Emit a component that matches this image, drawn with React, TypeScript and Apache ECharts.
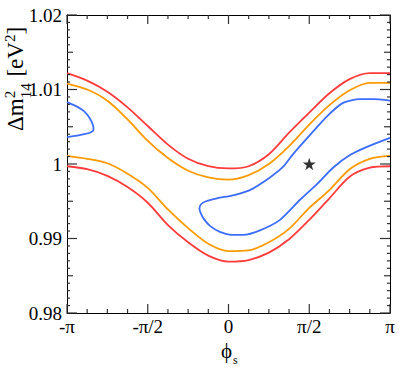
import React, { useEffect, useRef } from 'react';
import * as echarts from 'echarts';

// x values are in units of pi
const X_TICK_VALUES = [-1, -0.5, 0, 0.5, 1];
const X_TICK_LABELS = ['-π', '-π/2', '0', 'π/2', 'π'];
const X_MINOR_TICKS = [-0.875, -0.75, -0.625, -0.375, -0.25, -0.125, 0.125, 0.25, 0.375, 0.625, 0.75, 0.875];
const Y_TICK_VALUES = [0.98, 0.99, 1, 1.01, 1.02];
const Y_TICK_LABELS = ['0.98', '0.99', '1', '1.01', '1.02'];

const PHI = [-1, -0.875, -0.75, -0.625, -0.5, -0.375, -0.25, -0.125, 0, 0.125, 0.25, 0.375, 0.5, 0.625, 0.75, 0.875, 1];
const RED_UPPER = [1.0122, 1.0112, 1.0097, 1.0076, 1.0051, 1.0026, 1.0007, 0.9997, 0.9994, 0.9997, 1.0013, 1.0042, 1.0069, 1.0095, 1.0114, 1.0122, 1.0122];
const ORANGE_UPPER = [1.0108, 1.01, 1.0085, 1.006, 1.0031, 1.0008, 0.9991, 0.9982, 0.9979, 0.9985, 1.0, 1.0024, 1.0053, 1.0079, 1.0099, 1.0109, 1.0109];
const ORANGE_LOWER = [1.0011, 1.0007, 1.0001, 0.9987, 0.9968, 0.9939, 0.9914, 0.9893, 0.9883, 0.9884, 0.9895, 0.9913, 0.9941, 0.9965, 0.9993, 1.0007, 1.0011];
const RED_LOWER = [0.9997, 0.9993, 0.9984, 0.9969, 0.9948, 0.9918, 0.9895, 0.9877, 0.9869, 0.9871, 0.9881, 0.9899, 0.9925, 0.9954, 0.9983, 0.9995, 0.9997];

const BLUE_MAIN_PHI = [1.0, 0.895, 0.814, 0.709, 0.61, 0.505, 0.399, 0.337, 0.257, 0.133, 0.028, -0.071, -0.139, -0.17, -0.18, -0.17, -0.152, -0.115, -0.053, 0.022, 0.09, 0.195, 0.319, 0.443, 0.548, 0.647, 0.752, 0.858, 1.0];
const BLUE_MAIN_VAL = [1.0085, 1.0087, 1.0087, 1.0082, 1.0064, 1.0039, 1.0013, 0.9996, 0.9982, 0.9965, 0.9958, 0.9954, 0.995, 0.9946, 0.994, 0.9933, 0.9926, 0.9917, 0.9909, 0.9905, 0.9905, 0.9911, 0.9925, 0.9952, 0.9973, 0.9995, 1.0012, 1.0023, 1.0035];
const BLUE_LOBE_PHI = [-1, -0.938, -0.895, -0.861, -0.839, -0.836, -0.858, -0.895, -0.938, -1];
const BLUE_LOBE_VAL = [1.0083, 1.0077, 1.0071, 1.0062, 1.0052, 1.0046, 1.0042, 1.004, 1.0038, 1.0036];

const BEST_FIT = [0.5, 1.0];

const X_MIN = -1;
const X_MAX = 1;
const Y_MIN = 0.98;
const Y_MAX = 1.02;

const FONT = '"Liberation Serif", "DejaVu Serif", serif';
const RED = '#ff3b3b';
const ORANGE = '#ff9a00';
const BLUE = '#3d6dff';
const TICK = '#333';
const STAR = 'path://M50,0 L61.8,35.1 L98.5,35.1 L68.8,56.7 L79.4,91.9 L50,70 L20.6,91.9 L31.2,56.7 L1.5,35.1 L38.2,35.1 Z';

function measure(text: string, size: number): number {
  const c = document.createElement('canvas').getContext('2d');
  if (!c) return text.length * size * 0.5;
  c.font = `${size}px ${FONT}`;
  return c.measureText(text).width;
}

function zip(xs: number[], ys: number[]) {
  return xs.map((x, i) => [x, ys[i]]);
}

// tick marks: [x, y, kind (0 = x tick, 1 = y tick), length in px]
function tickData() {
  const out: number[][] = [];
  X_TICK_VALUES.forEach((v) => out.push([v, 1, 0, 9]));
  X_MINOR_TICKS.forEach((v) => out.push([v, 1, 0, 4]));
  for (let i = 0; i <= 40; i++) {
    const v = Math.round((Y_MIN + i * 0.001) * 10000) / 10000;
    const len = i % 10 === 0 ? 10 : i % 5 === 0 ? 6 : 3;
    out.push([0, v, 1, len]);
  }
  return out;
}

function renderTick(_params: any, api: any) {
  const kind = api.value(2);
  const len = api.value(3);
  const style = { stroke: TICK, lineWidth: 1.2 };
  if (kind === 0) {
    const v = api.value(0);
    const b = api.coord([v, Y_MIN]);
    const t = api.coord([v, Y_MAX]);
    return {
      type: 'group',
      children: [
        { type: 'line', shape: { x1: b[0], y1: b[1], x2: b[0], y2: b[1] - len }, style },
        { type: 'line', shape: { x1: t[0], y1: t[1], x2: t[0], y2: t[1] + len }, style },
      ],
    };
  }
  const v = api.value(1);
  const l = api.coord([X_MIN, v]);
  const r = api.coord([X_MAX, v]);
  return {
    type: 'group',
    children: [
      { type: 'line', shape: { x1: l[0], y1: l[1], x2: l[0] + len, y2: l[1] }, style },
      { type: 'line', shape: { x1: r[0], y1: r[1], x2: r[0] - len, y2: r[1] }, style },
    ],
  };
}

function yTitle() {
  const F = 23;
  const S = 15;
  const w1 = measure('Δm', F);
  const wSub = measure('14', S);
  const wSup = measure('2', S);
  const w2 = measure(' [eV', F);
  const x2 = w1 + Math.max(wSub, wSup) + 1;
  const base = { fill: '#000', fontFamily: FONT, verticalAlign: 'bottom' as const, align: 'left' as const };
  return {
    type: 'group',
    x: 27,
    y: 131,
    rotation: Math.PI / 2,
    children: [
      { type: 'text', x: 0, y: 0, style: { ...base, text: 'Δm', fontSize: F } },
      { type: 'text', x: w1, y: -F * 0.42, style: { ...base, text: '2', fontSize: S } },
      { type: 'text', x: w1, y: S * 0.45, style: { ...base, text: '14', fontSize: S } },
      { type: 'text', x: x2, y: 0, style: { ...base, text: ' [eV', fontSize: F } },
      { type: 'text', x: x2 + w2, y: -F * 0.42, style: { ...base, text: '2', fontSize: S } },
      { type: 'text', x: x2 + w2 + wSup, y: 0, style: { ...base, text: ']', fontSize: F } },
    ],
  };
}

function xTitle() {
  return {
    type: 'group',
    children: [
      { type: 'text', x: 221, y: 340, style: { text: 'ϕ', fontSize: 21, fontFamily: FONT, fill: '#000', align: 'left', verticalAlign: 'top' } },
      { type: 'text', x: 233, y: 354, style: { text: 's', fontSize: 12, fontFamily: FONT, fill: '#000', align: 'left', verticalAlign: 'top' } },
    ],
  };
}

function xLabel(v: number) {
  const i = X_TICK_VALUES.findIndex((t) => Math.abs(t - v) < 1e-6);
  return i >= 0 ? X_TICK_LABELS[i] : '';
}
function yLabel(v: number) {
  const i = Y_TICK_VALUES.findIndex((t) => Math.abs(t - v) < 1e-6);
  return i >= 0 ? Y_TICK_LABELS[i] : '';
}

function xAxis(position: 'bottom' | 'top', labels: boolean) {
  return {
    type: 'value',
    position,
    min: X_MIN,
    max: X_MAX,
    interval: 0.5,
    axisLine: { show: true, onZero: false, lineStyle: { color: '#000', width: 1 } },
    axisTick: { show: false },
    minorTick: { show: false },
    splitLine: { show: false },
    minorSplitLine: { show: false },
    axisLabel: { show: labels, formatter: xLabel, fontSize: 19, fontFamily: FONT, color: '#000', margin: 4 },
  };
}

function yAxis(position: 'left' | 'right', labels: boolean) {
  return {
    type: 'value',
    position,
    min: Y_MIN,
    max: Y_MAX,
    interval: 0.01,
    axisLine: { show: true, onZero: false, lineStyle: { color: '#000', width: 1 } },
    axisTick: { show: false },
    minorTick: { show: false },
    splitLine: { show: false },
    minorSplitLine: { show: false },
    axisLabel: { show: labels, formatter: yLabel, fontSize: 19, fontFamily: FONT, color: '#000', margin: 5 },
  };
}

function lineSeries(data: number[][], color: string, smooth = 0.3) {
  return {
    type: 'line',
    data,
    xAxisIndex: 0,
    yAxisIndex: 0,
    showSymbol: false,
    symbol: 'none',
    smooth,
    lineStyle: { color, width: 1.8 },
  };
}

export default function App() {
  const ref = useRef<HTMLDivElement>(null);
  useEffect(() => {
    if (!ref.current) return;
    const chart = echarts.init(ref.current, null, { renderer: 'svg' });
    chart.setOption({
      animation: false,
      backgroundColor: '#fff',
      grid: { left: 67, right: 9, top: 15, bottom: 57, containLabel: false },
      xAxis: [xAxis('bottom', true), xAxis('top', false)],
      yAxis: [yAxis('left', true), yAxis('right', false)],
      series: [
        lineSeries(zip(PHI, RED_UPPER), RED),
        lineSeries(zip(PHI, ORANGE_UPPER), ORANGE),
        lineSeries(zip(PHI, ORANGE_LOWER), ORANGE),
        lineSeries(zip(PHI, RED_LOWER), RED),
        lineSeries(zip(BLUE_MAIN_PHI, BLUE_MAIN_VAL), BLUE, 0.25),
        lineSeries(zip(BLUE_LOBE_PHI, BLUE_LOBE_VAL), BLUE, 0.25),
        {
          type: 'scatter',
          data: [BEST_FIT],
          symbol: STAR,
          symbolSize: 13,
          symbolKeepAspect: true,
          itemStyle: { color: '#000' },
        },
        {
          type: 'custom',
          xAxisIndex: 0,
          yAxisIndex: 0,
          data: tickData(),
          renderItem: renderTick,
          silent: true,
          z: 5,
        },
      ],
      graphic: [yTitle(), xTitle()],
    });
    return () => chart.dispose();
  }, []);
  return <div ref={ref} style={{ position: 'absolute', left: 0, top: 0, width: 399, height: 370 }} />;
}
